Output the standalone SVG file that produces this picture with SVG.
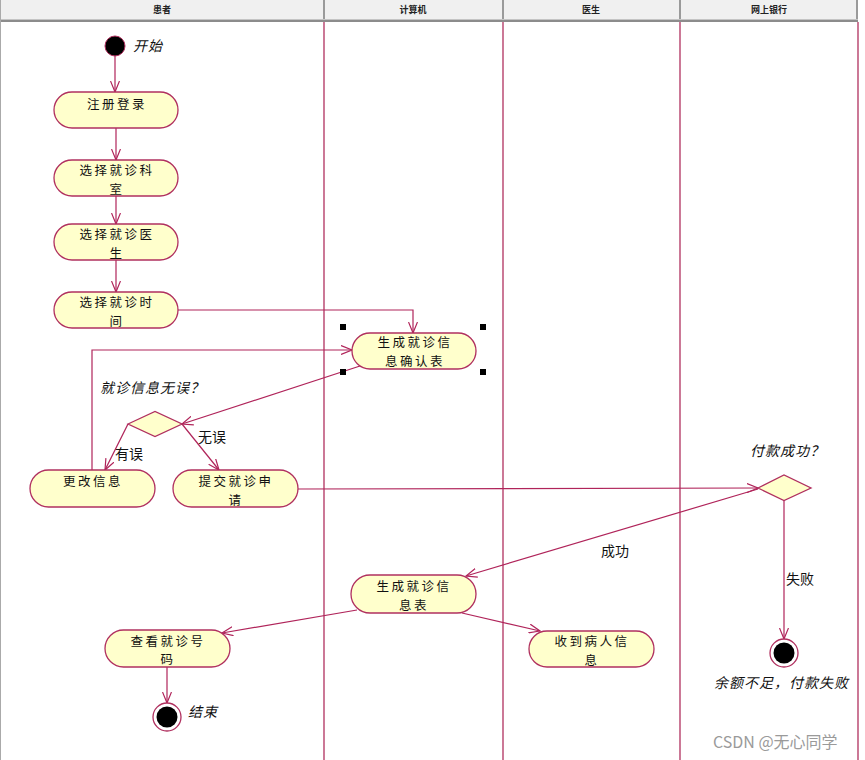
<svg xmlns="http://www.w3.org/2000/svg" width="865" height="760" viewBox="0 0 865 760">
<defs>
<style>
.hdr{font-family:"Noto Sans CJK SC","Liberation Sans",sans-serif;font-size:9px;font-weight:bold;fill:#222;text-anchor:middle}
.lane{stroke:#b0305f;stroke-width:1.3;fill:none}
.node rect{fill:#ffffcc;stroke:#b0305f;stroke-width:1.3}
.node text{font-family:"Noto Sans CJK SC","Liberation Sans",sans-serif;font-size:12.5px;fill:#111;text-anchor:middle;letter-spacing:2.5px}
.dia{fill:#ffffcc;stroke:#b0305f;stroke-width:1.3}
.conn{stroke:#b0245a;stroke-width:1.2;fill:none;marker-end:url(#arr)}
.lbl{font-family:"Noto Sans CJK SC","Liberation Sans",sans-serif;font-size:14px;fill:#111}
.it{font-style:italic;letter-spacing:1px}
.h{fill:#000}
</style>
<marker id="arr" markerUnits="userSpaceOnUse" markerWidth="12" markerHeight="10" refX="11" refY="5" orient="auto">
<path d="M0,0.5 L11,5 L0,9.5" fill="none" stroke="#b0245a" stroke-width="1.2"/>
</marker>
</defs>
<rect x="0" y="0" width="865" height="760" fill="#fff"/>
<g id="header">
<rect x="0" y="0" width="858" height="19" fill="#f0f0f0"/>
<rect x="0" y="19" width="858" height="3" fill="#8c8c8c"/>
<line x1="0" y1="19.5" x2="858" y2="19.5" stroke="#c4c4c4"/>
<g stroke="#9a9a9a" stroke-width="2">
<line x1="324" y1="0" x2="324" y2="19"/>
<line x1="503" y1="0" x2="503" y2="19"/>
<line x1="680" y1="0" x2="680" y2="19"/>
<line x1="857" y1="0" x2="857" y2="19"/>
</g>
<text class="hdr" x="162" y="13">患者</text>
<text class="hdr" x="413" y="13">计算机</text>
<text class="hdr" x="591" y="13">医生</text>
<text class="hdr" x="769" y="13">网上银行</text>
</g>
<g id="lanes">
<line x1="0.5" y1="0" x2="0.5" y2="760" stroke="#aaa" stroke-width="1"/>
<line class="lane" x1="324" y1="22" x2="324" y2="760"/>
<line class="lane" x1="503" y1="22" x2="503" y2="760"/>
<line class="lane" x1="680" y1="22" x2="680" y2="760"/>
<line class="lane" x1="858" y1="22" x2="858" y2="760"/>
</g>
<g id="connectors">
<line class="conn" x1="115" y1="56" x2="115" y2="92"/>
<line class="conn" x1="116" y1="128" x2="116" y2="160"/>
<line class="conn" x1="116" y1="196" x2="116" y2="224"/>
<line class="conn" x1="116" y1="260" x2="116" y2="292"/>
<polyline class="conn" points="178,310 413,310 413,333"/>
<polyline class="conn" points="92,470 92,350 352,350"/>
<line class="conn" x1="360" y1="366" x2="182" y2="424"/>
<line class="conn" x1="128" y1="424" x2="105" y2="470"/>
<line class="conn" x1="182" y1="424" x2="219" y2="470"/>
<line class="conn" x1="298" y1="489" x2="758" y2="488"/>
<line class="conn" x1="758" y1="489" x2="466" y2="576"/>
<line class="conn" x1="784" y1="500" x2="784" y2="639"/>
<line class="conn" x1="357" y1="610" x2="222" y2="633"/>
<line class="conn" x1="462" y1="613" x2="540" y2="631"/>
<line class="conn" x1="167" y1="667" x2="167" y2="703"/>
</g>
<g id="start">
<circle cx="115" cy="46" r="10" fill="#000" stroke="#b0305f" stroke-width="1"/>
<text class="lbl it" x="133" y="51">开始</text>
</g>
<g id="n1" class="node"><rect x="54" y="92" width="124" height="36" rx="18" ry="18"/><text x="117" y="109">注册登录</text></g>
<g id="n2" class="node"><rect x="54" y="160" width="124" height="36" rx="18" ry="18"/><text x="117" y="175">选择就诊科</text><text x="117" y="193.5">室</text></g>
<g id="n3" class="node"><rect x="54" y="224" width="124" height="36" rx="18" ry="18"/><text x="117" y="239">选择就诊医</text><text x="117" y="257.5">生</text></g>
<g id="n4" class="node"><rect x="54" y="292" width="124" height="36" rx="18" ry="18"/><text x="117" y="307">选择就诊时</text><text x="117" y="325.5">间</text></g>
<g id="n5" class="node"><rect x="352" y="333" width="124" height="36" rx="18" ry="18"/><text x="415" y="347">生成就诊信</text><text x="415" y="365.5">息确认表</text></g>
<g id="handles">
<rect class="h" x="340" y="324" width="6" height="6"/>
<rect class="h" x="480" y="324" width="6" height="6"/>
<rect class="h" x="340" y="369" width="6" height="6"/>
<rect class="h" x="480" y="369" width="6" height="6"/>
</g>
<g id="d1">
<polygon class="dia" points="128,424 155,411.5 182,424 155,436.5"/>
<text class="lbl it" x="100" y="393">就诊信息无误？</text>
</g>
<text class="lbl" x="115" y="459">有误</text>
<text class="lbl" x="198" y="442">无误</text>
<g id="n6" class="node"><rect x="30" y="470" width="125" height="37" rx="18.5" ry="18.5"/><text x="93" y="486">更改信息</text></g>
<g id="n7" class="node"><rect x="173" y="470" width="125" height="37" rx="18.5" ry="18.5"/><text x="236" y="486">提交就诊申</text><text x="236" y="504.5">请</text></g>
<g id="d2">
<polygon class="dia" points="758,488 784,475 811,488 784,500.5"/>
<text class="lbl it" x="750" y="456">付款成功？</text>
</g>
<text class="lbl" x="601" y="556">成功</text>
<text class="lbl" x="786" y="584">失败</text>
<g id="n8" class="node"><rect x="351" y="575" width="125" height="38" rx="19" ry="19"/><text x="414" y="591">生成就诊信</text><text x="414" y="609.5">息表</text></g>
<g id="n9" class="node"><rect x="105" y="630" width="125" height="37" rx="18.5" ry="18.5"/><text x="168" y="645.5">查看就诊号</text><text x="168" y="664">码</text></g>
<g id="n10" class="node"><rect x="529" y="631" width="125" height="36" rx="18" ry="18"/><text x="592" y="646">收到病人信</text><text x="592" y="664.5">息</text></g>
<g id="end1">
<circle cx="167" cy="717" r="14" fill="#fff" stroke="#b0305f" stroke-width="1.3"/>
<circle cx="167" cy="717" r="10.5" fill="#000"/>
<text class="lbl it" x="188" y="717">结束</text>
</g>
<g id="end2">
<circle cx="784" cy="653" r="14" fill="#fff" stroke="#b0305f" stroke-width="1.3"/>
<circle cx="784" cy="653" r="10.5" fill="#000"/>
<text class="lbl it" x="714" y="688">余额不足，付款失败</text>
</g>
<text x="713" y="748" font-family="'Noto Sans CJK SC','Liberation Sans',sans-serif" font-size="16" fill="#9a9a9a">CSDN @无心同学</text>
</svg>
